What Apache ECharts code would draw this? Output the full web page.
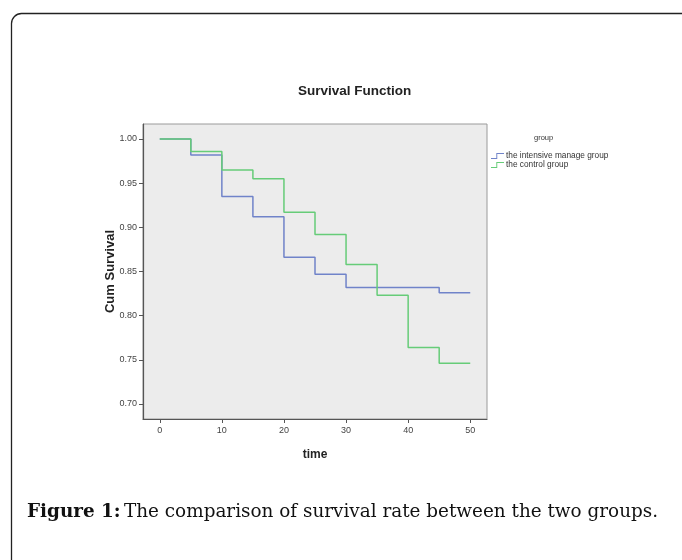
<!DOCTYPE html>
<html>
<head>
<meta charset="utf-8">
<script src="https://cdn.jsdelivr.net/npm/echarts@6/dist/echarts.min.js"></script>
<style>
html,body{margin:0;padding:0;background:#fff;}
#chart{width:682px;height:560px;}
</style>
</head>
<body>
<div id="chart"></div>
<script>
// Data
const times = [0, 5, 10, 15, 20, 25, 30, 35, 40, 45, 50];
const intensiveGroup = [1.000, 0.982, 0.935, 0.912, 0.866, 0.847, 0.832, 0.832, 0.832, 0.826, 0.826];
const controlGroup   = [1.000, 0.986, 0.965, 0.955, 0.917, 0.892, 0.858, 0.823, 0.764, 0.746, 0.746];
const seriesNames = ['the intensive manage group', 'the control group'];
const xTicks = [0, 10, 20, 30, 40, 50];
const yTicks = [0.70, 0.75, 0.80, 0.85, 0.90, 0.95, 1.00];

const pair = (vals) => times.map((t, i) => [t, vals[i]]);

const chart = echarts.init(document.getElementById('chart'), null, {renderer: 'canvas'});
const sans = 'Liberation Sans, Arial, sans-serif';
// filled step-shaped legend icon
const stepIcon = 'path://M0,8.5 L9,8.5 L9,0 L22,0 L22,1.6 L10.6,1.6 L10.6,10 L0,10 Z';

chart.setOption({
  animation: false,
  backgroundColor: '#ffffff',
  title: [{
    text: 'Survival Function',
    left: 293, top: 79,
    textStyle: {fontFamily: sans, fontSize: 13.5, fontWeight: 'bold', color: '#222'}
  }, {
    text: 'group',
    left: 529, top: 129,
    textStyle: {fontFamily: sans, fontSize: 7.5, fontWeight: 'normal', color: '#333'}
  }],
  legend: {
    orient: 'vertical',
    left: 486, top: 147,
    itemGap: 1,
    itemWidth: 13, itemHeight: 6,
    icon: stepIcon,
    itemStyle: {borderWidth: 0},
    textStyle: {fontFamily: sans, fontSize: 8.3, color: '#333', padding: [0, 0, 0, -3]},
    data: seriesNames
  },
  grid: {
    left: 143, right: 195, top: 124, bottom: 141,
    show: true, backgroundColor: '#ececec', borderColor: '#9a9a9a', borderWidth: 1
  },
  xAxis: {
    type: 'value', min: -2.7, max: 52.7,
    name: 'time', nameLocation: 'middle', nameGap: 30,
    nameTextStyle: {fontFamily: sans, fontSize: 12, fontWeight: 'bold', color: '#222'},
    axisLine: {show: true, onZero: false, lineStyle: {color: '#555', width: 1.2}},
    axisTick: {show: true, length: 4, customValues: xTicks, lineStyle: {color: '#555'}},
    axisLabel: {customValues: xTicks, fontFamily: sans, fontSize: 9, color: '#444', margin: 7},
    splitLine: {show: false}
  },
  yAxis: {
    type: 'value', min: 0.683, max: 1.017,
    name: 'Cum Survival', nameLocation: 'middle', nameGap: 26, nameRotate: 90,
    nameMoveOverlap: false,
    nameTextStyle: {fontFamily: sans, fontSize: 13, fontWeight: 'bold', color: '#222'},
    axisLine: {show: true, onZero: false, lineStyle: {color: '#555', width: 1.2}},
    axisTick: {show: true, length: 4, customValues: yTicks, lineStyle: {color: '#555'}},
    axisLabel: {customValues: yTicks, fontFamily: sans, fontSize: 9, color: '#444', margin: 6,
      formatter: v => v.toFixed(2)},
    splitLine: {show: false}
  },
  series: [{
    name: seriesNames[0], type: 'line', step: 'end', data: pair(intensiveGroup),
    showSymbol: false, symbol: 'none', color: '#7083c9',
    lineStyle: {width: 1.5, color: '#7083c9'}
  }, {
    name: seriesNames[1], type: 'line', step: 'end', data: pair(controlGroup),
    showSymbol: false, symbol: 'none', color: '#66cc78',
    lineStyle: {width: 1.5, color: '#66cc78'}
  }],
  graphic: [{
    type: 'rect', silent: true,
    shape: {x: 11.5, y: 13.5, width: 720, height: 620, r: 10},
    style: {fill: 'none', stroke: '#222', lineWidth: 1.3}
  }, {
    type: 'text', left: 27, top: 503,
    style: {
      text: '{b|Figure 1:} {n|The comparison of survival rate between the two groups.}',
      rich: {
        b: {fontFamily: 'DejaVu Serif, serif', fontSize: 18.4, fontWeight: 'bold', fill: '#111'},
        n: {fontFamily: 'DejaVu Serif, serif', fontSize: 18.4, fill: '#111'}
      }
    }
  }]
});
</script>
</body>
</html>
